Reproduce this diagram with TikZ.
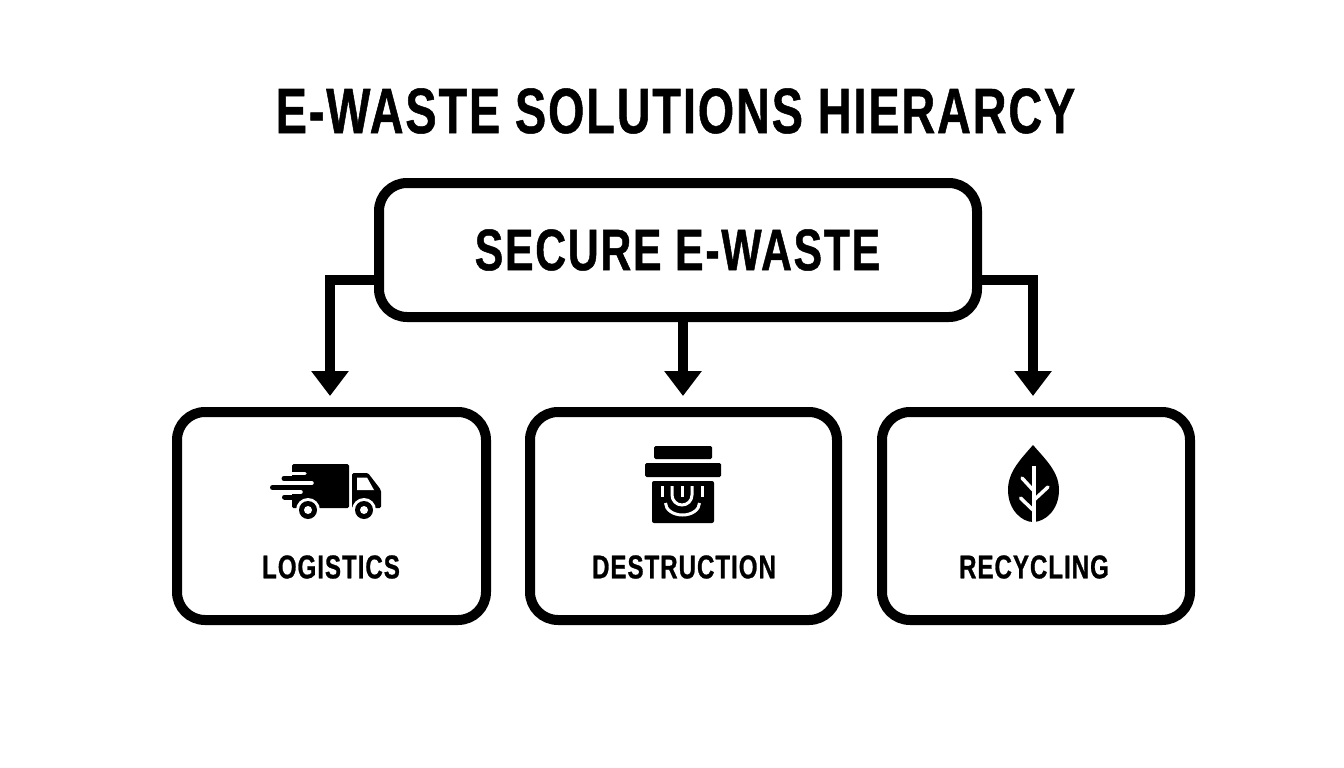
\documentclass[tikz,border=0pt]{standalone}
\usepackage{xcolor}
\usepackage{fontspec}
\setmainfont[FakeStretch=0.73,LetterSpace=3,BoldFeatures={FakeBold=0.8}]{Liberation Sans}
\usetikzlibrary{arrows.meta}

\tikzset{
  box/.style={draw=black, line width=10pt, rounded corners=28pt, fill=white, inner sep=0pt},
  flow/.style={draw=black, line width=10pt, -{Triangle[width=36pt,length=25pt]}},
  heading/.style={font=\bfseries\fontsize{64}{64}\selectfont, inner sep=0pt},
  caption/.style={font=\bfseries\fontsize{33}{33}\selectfont, inner sep=0pt},
}

\begin{document}
\begin{tikzpicture}[x=1pt, y=-1pt]
  \useasboundingbox (0,0) rectangle (1344,768);

  \node[heading] (title) at (675.5,111) {E-WASTE SOLUTIONS HIERARCY};

  \node[box, minimum width=598pt, minimum height=134pt] (secure) at (678,250) {};
  \node[heading, font=\bfseries\fontsize{58.5}{58.5}\selectfont] (securetext) at (677.5,250) {SECURE E-WASTE};

  \node[box, minimum width=309pt, minimum height=208pt] (logistics) at (331.5,516) {};
  \node[box, minimum width=307pt, minimum height=208pt] (destruction) at (683.5,516) {};
  \node[box, minimum width=308pt, minimum height=208pt] (recycling) at (1036,516) {};

  \node[caption] (logisticstext) at (331,567) {LOGISTICS};
  \node[caption] (destructiontext) at (684,567) {DESTRUCTION};
  \node[caption] (recyclingtext) at (1034,567) {RECYCLING};

  \coordinate (tipleft) at (330,396);
  \coordinate (tipmid) at (683,396);
  \coordinate (tipright) at (1033,396);

  \draw[flow] ([yshift=-30pt]secure.west) -| (tipleft);
  \draw[flow] (secure.south -| tipmid) -- (tipmid);
  \draw[flow] ([yshift=-30pt]secure.east) -| (tipright);

  % truck
  \fill[rounded corners=1.5pt] (292,464) rectangle (349,508);
  \fill[rounded corners=1.5pt] (352,473) -- (368,473) -- (381,490) -- (381,508) -- (352,508) -- cycle;
  \fill[white] (357,477.5) -- (367,477.5) -- (374,490) -- (357,490) -- cycle;
  \foreach \y/\xe in {473.7/305, 483/312, 492/301}{%
    \draw[white, line width=3.5pt, line cap=round] (280,\y) -- (\xe,\y);
  }
  \foreach \y/\xs/\xe in {478.5/284/300, 487.5/272.5/300, 497/284.5/300}{%
    \draw[black, line width=5pt, line cap=round] (\xs,\y) -- (\xe,\y);
  }
  \fill[white] (286,470) rectangle (292,475);
  \foreach \x in {308,364}{%
    \fill[white] (\x,510) circle (12);
    \fill[black] (\x,510) circle (9);
    \fill[white] (\x,510) circle (4);
  }

  % bin
  \fill[rounded corners=1.5pt] (654,446) rectangle (712,459);
  \fill[rounded corners=1.5pt] (645,463) rectangle (721,477);
  \fill[rounded corners=2pt] (652,481) rectangle (714,523);
  \foreach \x/\ye in {662/497, 682/497, 702/497}{%
    \draw[white, line width=3pt] (\x,486) -- (\x,\ye);
  }
  \draw[white, line width=3pt] (672,486) -- (672,495) arc[start angle=180, end angle=0, radius=10] -- (692,486);
  \draw[white, line width=3pt] (665.5,503) arc[start angle=180, end angle=0, x radius=17, y radius=12];

  % leaf
  \fill (1033,445) .. controls (1020,460) and (1008,472) .. (1008,490)
    .. controls (1008,510) and (1022,522) .. (1033,522)
    .. controls (1045,522) and (1059,510) .. (1059,490)
    .. controls (1059,472) and (1046,460) .. (1033,445) -- cycle;
  \draw[white, line width=4pt] (1033.5,466) -- (1033.5,522);
  \draw[white, line width=3.5pt, line cap=round] (1022,478) -- (1033,490);
  \draw[white, line width=3.5pt, line cap=round] (1048,487) -- (1034,500);
  \draw[white, line width=3.5pt, line cap=round] (1020.5,498) -- (1033,510);
\end{tikzpicture}
\end{document}
